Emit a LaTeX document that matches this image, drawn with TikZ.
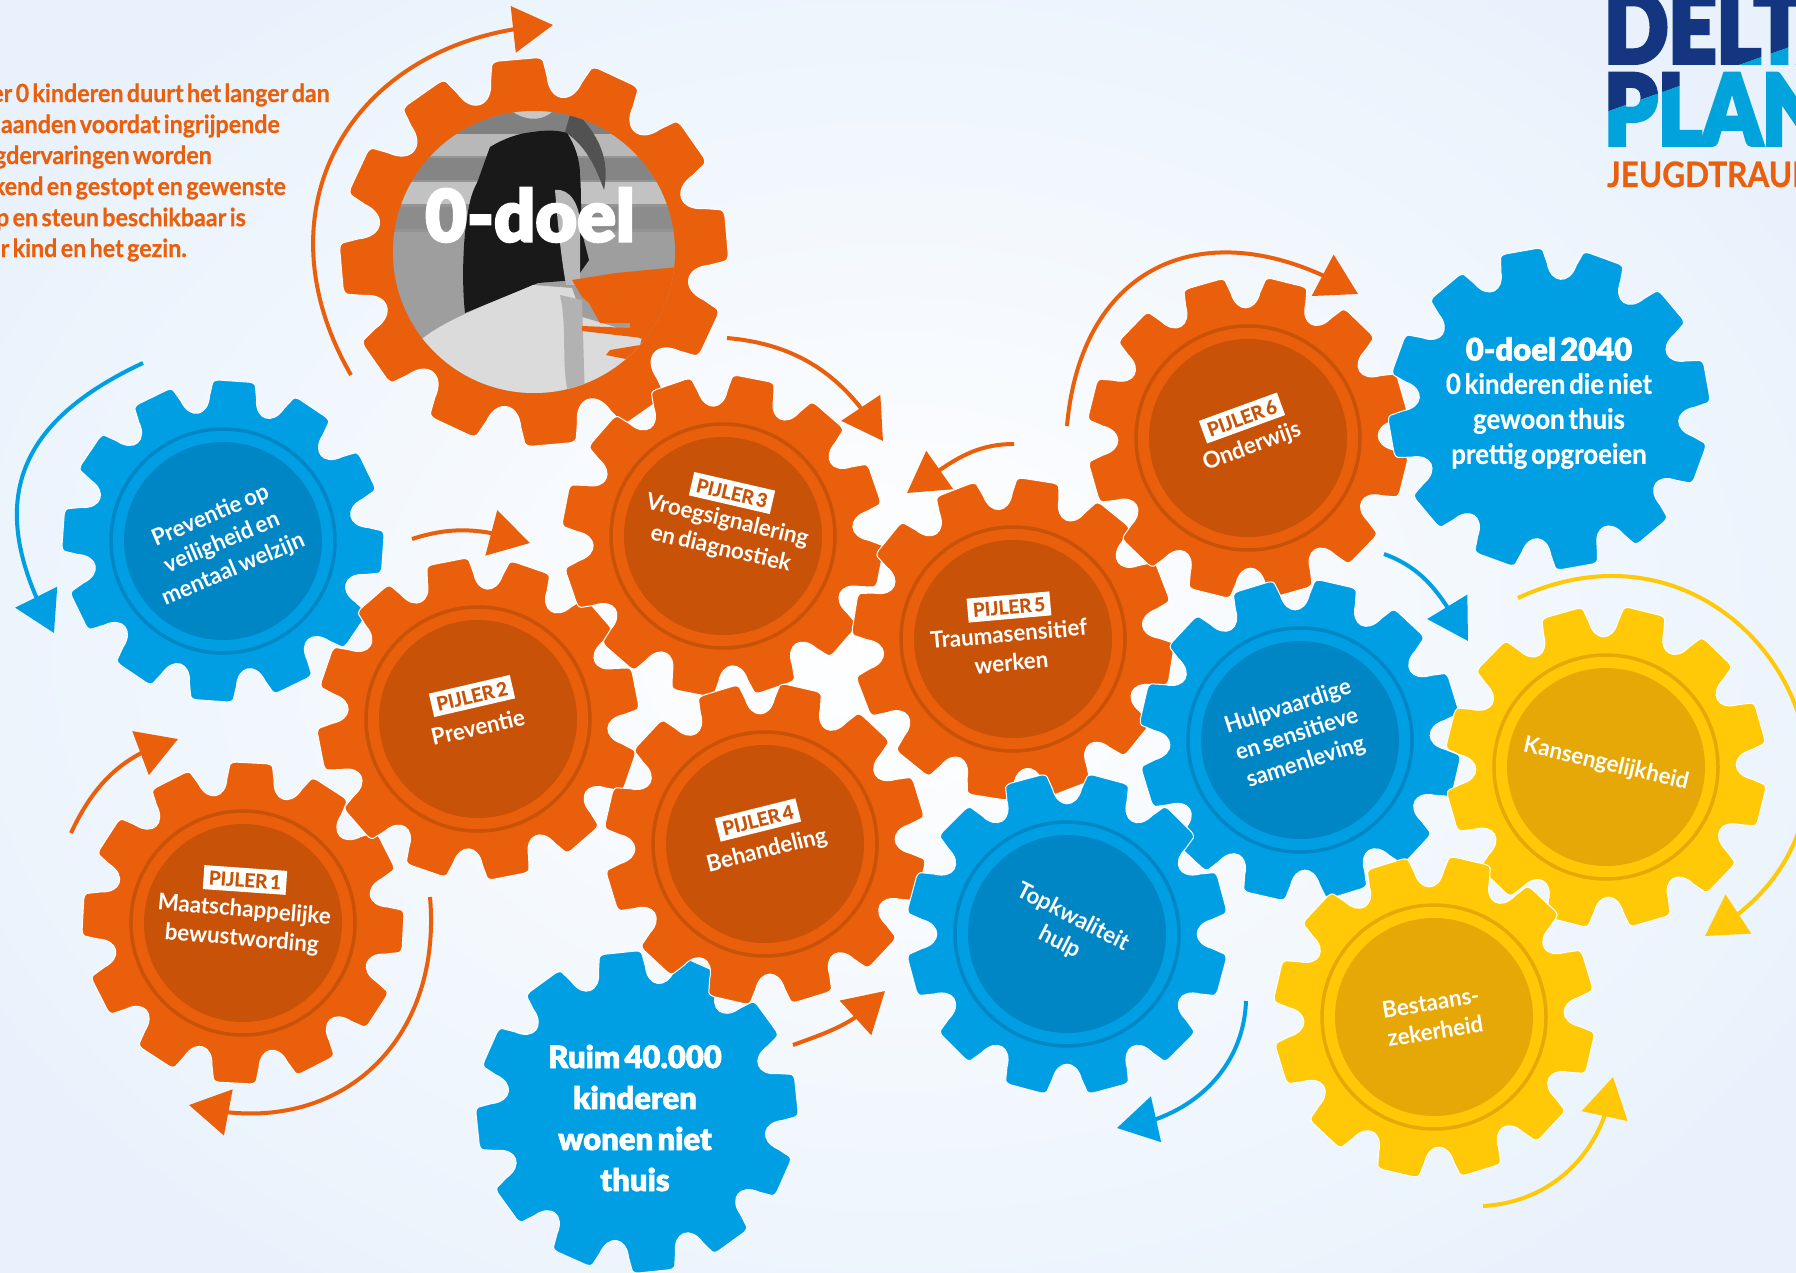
\documentclass[tikz,border=0pt]{standalone}
\usepackage{fontspec}
\setmainfont{Lato}[WordSpace=0.7]
\newfontfamily\LatoBlack{Lato Black}[WordSpace=0.6,FakeBold=1.8]
\newfontfamily\LatoLogo{Lato Black}[FakeBold=4]
\newfontfamily\LatoTitle{Lato Black}[FakeBold=3]
\newfontfamily\LatoHalf{Lato Bold}[WordSpace=0.6,FakeBold=0.6]
\usetikzlibrary{arrows.meta,bending}
\definecolor{org}{HTML}{EA5F0B}
\definecolor{orgd}{HTML}{C85207}
\definecolor{blu}{HTML}{009FE3}
\definecolor{blud}{HTML}{0086C4}
\definecolor{yel}{HTML}{FFC907}
\definecolor{yeld}{HTML}{E5A806}
\definecolor{navy}{HTML}{14357F}
\definecolor{cyanl}{HTML}{00A3DB}
\definecolor{bgout}{HTML}{E9F2FC}
\tikzset{
 x=1pt,y=1pt,
 gtext/.style={text=white,font=\fontsize{23}{29}\selectfont\bfseries,align=center,inner sep=0pt,xscale=.97},
 plabel/.style={fill=white,text=orgd,font=\fontsize{19}{19}\LatoHalf,inner xsep=0pt,inner ysep=0pt,minimum width=83pt,minimum height=24pt},
 intro/.style={text=org,font=\fontsize{25}{25}\LatoHalf,anchor=east,inner sep=0pt,xscale=.93},
 logoletters/.style={anchor=base west,inner sep=0pt,font=\fontsize{98}{98}\LatoLogo,xscale=.86},
 orbit/.style={draw=#1,line width=4pt,fill=none,-{Triangle[length=40pt,width=46pt,fill=#1]}},
}
% name cx cy R phase fill
\newcommand{\gearbase}[6]{%
 \coordinate (#1) at (#2,-#3);
 \filldraw[fill=#6,draw=white,line width=1pt,shift={(#1)},scale=#4/158,rotate=#5]
  (-5.5:159) \foreach \b in {0,30,...,330} {
   -- ({\b+5.5}:159)
   .. controls ({\b+7}:159) and ({\b+7.8}:158) .. ({\b+8}:154.5)
   -- ({\b+9.3}:144)
   .. controls ({\b+10.8}:124) and ({\b+19.2}:124) .. ({\b+20.7}:144)
   -- ({\b+22}:154.5)
   .. controls ({\b+22.2}:158) and ({\b+23}:159) .. ({\b+24.5}:159)
  } -- cycle;
}
\newcommand{\gearfull}[7]{%
 \gearbase{#1}{#2}{#3}{#4}{#5}{#6}
 \draw[#7,line width=3.5pt] (#1) circle (112);
 \fill[#7] (#1) circle (99);
}
\newcommand{\orbitarrow}[7]{% name sx sy tx ty  options colour
 \coordinate (#1s) at (#2,-#3);
 \coordinate (#1t) at (#4,-#5);
 \draw[orbit=#7] (#1s) to[#6] (#1t);
}
\begin{document}
\begin{tikzpicture}
\path[use as bounding box] (0,0) rectangle (1796,-1273);
\clip (0,0) rectangle (1796,-1273);
\fill[inner color=white,outer color=bgout] (-150,150) rectangle (1946,-1423);

% ----- gears
\gearbase{gzero}{534}{252}{193}{5}{org}
\begin{scope}
 \clip (gzero) circle (141);
 \fill[black!42] (gzero) circle (141);
 \foreach \yy/\cc in {112/50,134/28,158/48,182/24,207/45}
   \fill[black!\cc] (380,-\yy) rectangle (700,-\yy-22);
 \fill[black!38] (380,-232) rectangle (700,-400);
 % hair
 \fill[black!22] (500,-100) .. controls (520,-125) and (550,-125) .. (560,-100) -- cycle;
 \fill[black!68] (572,-108) .. controls (600,-135) and (610,-160) .. (604,-190) .. controls (595,-165) and (585,-145) .. (565,-132) -- cycle;
 % shirt
 \fill[black!90] (490,-147) .. controls (505,-138) and (520,-133) .. (533,-132) .. controls (545,-130) and (558,-130) .. (567,-133) .. controls (575,-145) and (580,-160) .. (580,-175)
   .. controls (582,-200) and (580,-220) .. (582,-233) -- (589,-260) -- (575,-280) -- (538,-283) -- (465,-313) .. controls (462,-285) and (463,-255) .. (465,-233) .. controls (468,-210) and (470,-195) .. (477,-183) -- cycle;
 % arm
 \fill[black!28] (555,-190) .. controls (570,-188) and (580,-205) .. (580,-225) -- (580,-285) -- (566,-285) .. controls (560,-250) and (558,-225) .. (555,-190) -- cycle;
 % animal
 \fill[black!14] (415,-345) .. controls (440,-320) and (500,-300) .. (533,-285) -- (572,-288) -- (582,-317) -- (625,-330) -- (660,-350) -- (660,-410) -- (415,-410) -- cycle;
 \fill[black!30] (560,-295) .. controls (568,-330) and (560,-370) .. (570,-400) -- (585,-400) -- (582,-300) -- cycle;
 % gear part that reaches into the photo
 \fill[org] (572,-280) -- (616,-273) -- (690,-266) -- (690,-372) -- (606,-355) -- (610,-350) -- (640,-345) -- (642,-338) -- (582,-331) -- (582,-326) -- (630,-328) -- (630,-323) -- (600,-323) -- (589,-303) -- (582,-297) -- cycle;
\end{scope}

\gearfull{gprev}{223}{541}{160}{26}{blu}{blud}
\gearfull{gone}{243}{923}{160}{27}{org}{orgd}
\gearfull{gtwo}{478}{719}{160}{11}{org}{orgd}
\gearbase{gruim}{637}{1112}{160}{6}{blu}
\gearfull{gthree}{723}{536}{160}{19}{org}{orgd}
\gearfull{gfour}{765}{844}{160}{17}{org}{orgd}
\gearfull{gfive}{1013}{639}{160}{21}{org}{orgd}
\gearfull{gsix}{1248}{438}{160}{16}{org}{orgd}
\gearbase{gdoel}{1549}{409}{160}{10}{blu}
\gearfull{ghulp}{1300}{740}{160}{17}{blu}{blud}
\gearfull{gtop}{1067}{934}{160}{15}{blu}{blud}
\gearfull{gkans}{1606}{767}{160}{16}{yel}{yeld}
\gearfull{gbest}{1434}{1017}{160}{17}{yel}{yeld}

% ----- orbit arrows
\orbitarrow{a}{351}{375}{553}{25}{out=120,in=183,looseness=1.25}{org}
\orbitarrow{b}{143}{363}{54}{633}{out=205,in=119,looseness=1.3}{blu}
\orbitarrow{c}{412}{539}{530}{543}{out=18,in=163}{org}
\orbitarrow{d}{727}{338}{883}{441}{out=-5,in=120}{org}
\orbitarrow{e}{1014}{444}{907}{493}{out=180,in=34}{org}
\orbitarrow{f}{1067}{426}{1358}{294}{out=85,in=149,looseness=1.35}{org}
\orbitarrow{g}{1384}{554}{1468}{641}{out=-20,in=121}{blu}
\orbitarrow{h}{1518}{598}{1705}{936}{out=25,in=29,looseness=1.7}{yel}
\orbitarrow{i}{1483}{1206}{1613}{1077}{out=3,in=265}{yel}
\orbitarrow{j}{1246}{1001}{1117}{1128}{out=268,in=6}{blu}
\orbitarrow{k}{793}{1045}{885}{991}{out=20,in=229}{org}
\orbitarrow{l}{430}{897}{189}{1105}{out=275,in=345,looseness=1.2}{org}
\orbitarrow{m}{71}{833}{178}{739}{out=65,in=195}{org}

% ----- gear texts
\node[rotate=23,gtext] (tprev) at (222,-543) {Preventie op\\veiligheid en\\mentaal welzijn};
\node[rotate=-4,plabel] (l1) at (245,-880) {PIJLER 1};
\node[rotate=-5,gtext] (t1) at (243,-925) {Maatschappelijke\\bewustwording};
\node[rotate=13,plabel] (l2) at (472,-696) {PIJLER 2};
\node[rotate=13,gtext] (t2) at (478,-727) {Preventie};
\node[rotate=-13,plabel] (l3) at (732,-493) {PIJLER 3};
\node[rotate=-13,gtext] (t3) at (724,-535) {Vroegsignalering\\en diagnostiek};
\node[rotate=14,plabel] (l4) at (758,-820) {PIJLER 4};
\node[rotate=14,gtext] (t4) at (767,-851) {Behandeling};
\node[rotate=5,plabel] (l5) at (1009,-607) {PIJLER 5};
\node[rotate=5,gtext] (t5) at (1010,-648) {Traumasensitief\\werken};
\node[rotate=20,plabel] (l6) at (1242,-418) {PIJLER 6};
\node[rotate=20,gtext] (t6) at (1252,-447) {Onderwijs};
\node[rotate=18,gtext] (thulp) at (1297,-735) {Hulpvaardige\\en sensitieve\\samenleving};
\node[rotate=-27,gtext] (ttop) at (1066,-930) {Topkwaliteit\\hulp};
\node[rotate=-13,gtext] (tkans) at (1606,-764) {Kansengelijkheid};
\node[rotate=9,gtext] (tbest) at (1433,-1017) {Bestaans-\\zekerheid};
\node[text=white,align=center,font=\fontsize{31}{41}\LatoBlack] (truim) at (635,-1118) {Ruim 40.000\\kinderen\\wonen niet\\thuis};
\node[text=white,font=\fontsize{31}{31}\LatoBlack] (tdoelh) at (1549,-349) {0-doel 2040};
\node[text=white,align=center,xscale=.92,font=\fontsize{28}{35}\LatoHalf] (tdoel) at (1549,-421) {0 kinderen die niet\\gewoon thuis\\prettig opgroeien};
\node[text=white,font=\fontsize{72}{72}\LatoTitle] (tzero) at (530,-215) {0-doel};

% ----- intro text
\node[intro] (i1) at (330,-95) {er 0 kinderen duurt het langer dan};
\node[intro] (i2) at (280,-126) {aanden voordat ingrijpende};
\node[intro] (i3) at (212,-157) {gdervaringen worden};
\node[intro] (i4) at (286,-188) {kend en gestopt en gewenste};
\node[intro] (i5) at (246,-219) {p en steun beschikbaar is};
\node[intro] (i6) at (187,-250) {r kind en het gezin.};

% ----- logo
\begin{scope}
 \clip (1500,-149.6) -- (1900,-8) -- (1900,100) -- (1500,100) -- cycle;
 \node[logoletters,text=navy] (logoa) at (1604,-63) {DELTA};
 \node[logoletters,text=navy] (logob) at (1604,-145) {PLAN};
\end{scope}
\begin{scope}
 \clip (1500,-149.6) -- (1900,-8) -- (1900,-160) -- (1500,-160) -- cycle;
 \node[logoletters,text=cyanl] (logoc) at (1604,-63) {DELTA};
 \node[logoletters,text=cyanl] (logod) at (1604,-145) {PLAN};
\end{scope}
\node[anchor=base west,inner sep=0pt,text=org,xscale=.9,font=\fontsize{35}{35}\LatoHalf] (logoe) at (1607,-187) {JEUGDTRAUM};
\end{tikzpicture}
\end{document}
